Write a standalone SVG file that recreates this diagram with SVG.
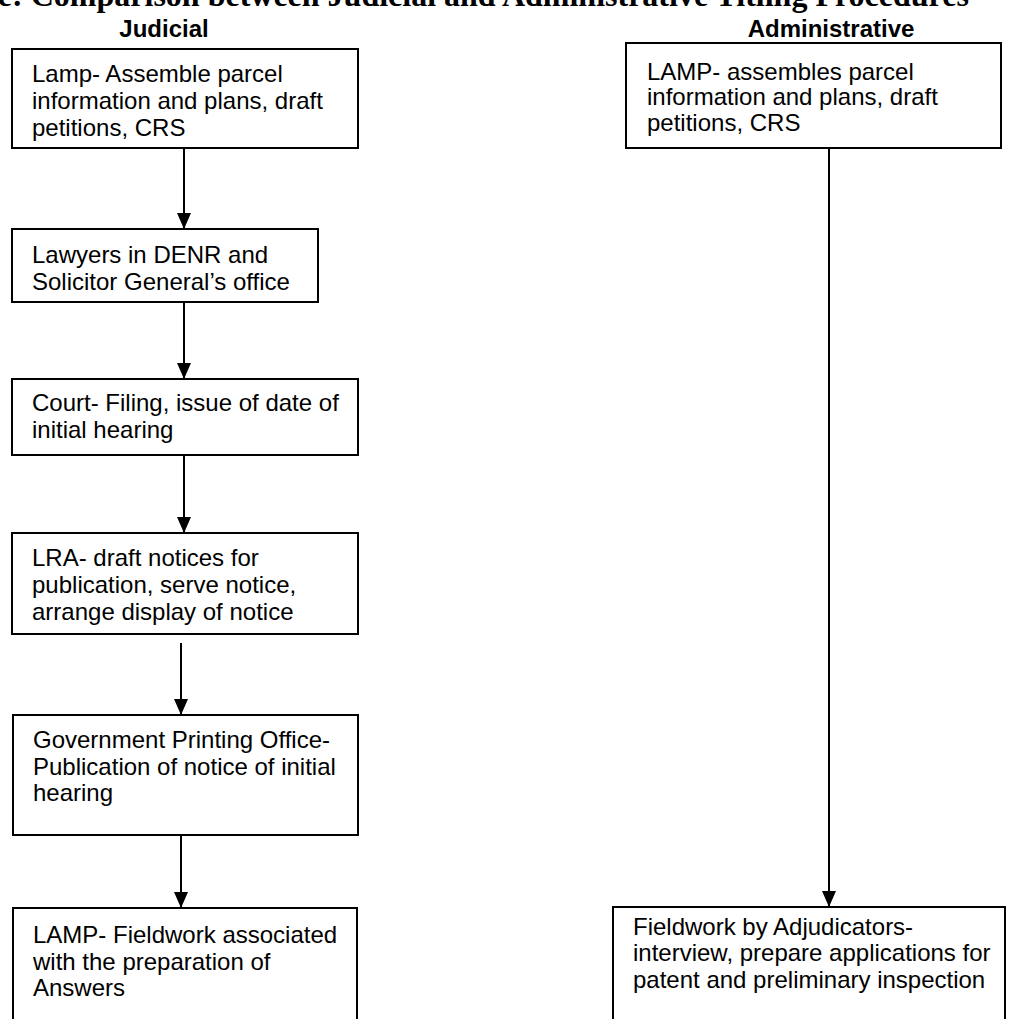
<svg xmlns="http://www.w3.org/2000/svg" width="1023" height="1019" viewBox="0 0 1023 1019">
<defs>
<style>
.box{fill:#fff;stroke:#000;stroke-width:2}
.t{font-family:"Liberation Sans",Arial,sans-serif;font-size:24px;fill:#000}
.h{font-family:"Liberation Sans",Arial,sans-serif;font-size:24px;font-weight:bold;fill:#000}
.title{font-family:"Liberation Serif","Times New Roman",serif;font-size:32px;font-weight:bold;fill:#000}
.c{stroke:#000;stroke-width:2;fill:none}
</style>
<marker id="ah" viewBox="0 0 16 14" refX="16" refY="7" markerWidth="16" markerHeight="14" markerUnits="userSpaceOnUse" orient="auto">
<path d="M0,0 L16,7 L0,14 Z" fill="#000"/>
</marker>
</defs>
<rect width="1023" height="1019" fill="#fff"/>
<text class="title" x="-78" y="6">Figure: Comparison between Judicial and Administrative Titling Procedures</text>
<text class="h" x="164" y="37" text-anchor="middle">Judicial</text>
<text class="h" x="831" y="37" text-anchor="middle">Administrative</text>
<g id="connectors">
<line class="c" x1="184" y1="148" x2="184" y2="229" marker-end="url(#ah)"/>
<line class="c" x1="184" y1="302" x2="184" y2="379" marker-end="url(#ah)"/>
<line class="c" x1="184" y1="455" x2="184" y2="533" marker-end="url(#ah)"/>
<line class="c" x1="181" y1="643" x2="181" y2="715" marker-end="url(#ah)"/>
<line class="c" x1="181" y1="835" x2="181" y2="908" marker-end="url(#ah)"/>
<line class="c" x1="829" y1="148" x2="829" y2="907" marker-end="url(#ah)"/>
</g>
<g id="j1"><rect class="box" x="12" y="49" width="346" height="99"/>
<text class="t" x="32" y="82">Lamp- Assemble parcel</text>
<text class="t" x="32" y="109">information and plans, draft</text>
<text class="t" x="32" y="136">petitions, CRS</text></g>
<g id="j2"><rect class="box" x="12" y="229" width="306" height="73"/>
<text class="t" x="32" y="263">Lawyers in DENR and</text>
<text class="t" x="32" y="290">Solicitor General’s office</text></g>
<g id="j3"><rect class="box" x="12" y="379" width="346" height="76"/>
<text class="t" x="32" y="411">Court- Filing, issue of date of</text>
<text class="t" x="32" y="438">initial hearing</text></g>
<g id="j4"><rect class="box" x="12" y="533" width="346" height="101"/>
<text class="t" x="32" y="566">LRA- draft notices for</text>
<text class="t" x="32" y="593">publication, serve notice,</text>
<text class="t" x="32" y="620">arrange display of notice</text></g>
<g id="j5"><rect class="box" x="13" y="715" width="345" height="120"/>
<text class="t" x="33" y="748">Government Printing Office-</text>
<text class="t" x="33" y="775">Publication of notice of initial</text>
<text class="t" x="33" y="801">hearing</text></g>
<g id="j6"><rect class="box" x="13" y="908" width="344" height="130"/>
<text class="t" x="33" y="943">LAMP- Fieldwork associated</text>
<text class="t" x="33" y="970">with the preparation of</text>
<text class="t" x="33" y="996">Answers</text></g>
<g id="a1"><rect class="box" x="626" y="43" width="375" height="105"/>
<text class="t" x="647" y="80">LAMP- assembles parcel</text>
<text class="t" x="647" y="105">information and plans, draft</text>
<text class="t" x="647" y="131">petitions, CRS</text></g>
<g id="a2"><rect class="box" x="613" y="907" width="392" height="130"/>
<text class="t" x="633" y="935">Fieldwork by Adjudicators-</text>
<text class="t" x="633" y="961">interview, prepare applications for</text>
<text class="t" x="633" y="988">patent and preliminary inspection</text></g>
</svg>
